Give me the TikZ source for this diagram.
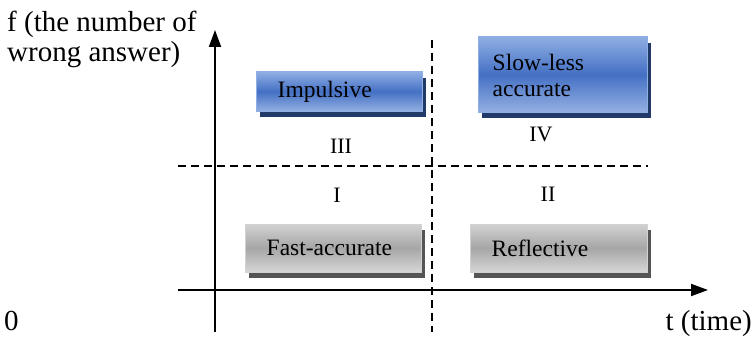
\documentclass[tikz,border=0pt]{standalone}
\usepackage{fontspec}
\setmainfont{Liberation Serif}
\usetikzlibrary{arrows.meta,shadows}

\definecolor{bluetop}{HTML}{8FAEE3}
\definecolor{bluemid}{HTML}{4470C4}
\definecolor{bluebot}{HTML}{93AFE2}
\definecolor{blueshadow}{HTML}{223A68}
\definecolor{graytop}{HTML}{D2D2D2}
\definecolor{graymid}{HTML}{A6A6A6}
\definecolor{graybot}{HTML}{D6D6D6}
\definecolor{grayshadow}{HTML}{555555}

\tikzset{
  axis/.style={line width=2pt,-{Triangle[length=17pt,width=12pt]}},
  guide/.style={line width=1.4pt,dash pattern=on 8pt off 5pt},
  quadbox/.style={rectangle,anchor=center,inner sep=0pt,line width=1pt},
  bluebox/.style={quadbox,draw=bluetop,top color=bluetop,bottom color=bluebot,
    middle color=bluemid,
    drop shadow={shadow xshift=4pt,shadow yshift=-6pt,fill=blueshadow,opacity=1}},
  graybox/.style={quadbox,draw=graytop,top color=graytop,bottom color=graybot,
    middle color=graymid,
    drop shadow={shadow xshift=4pt,shadow yshift=-6pt,fill=grayshadow,opacity=1}},
  boxtext/.style={anchor=west,inner sep=0pt,align=left,
    font=\fontsize{23.5}{26}\selectfont},
  quadlabel/.style={font=\fontsize{22}{24}\selectfont,inner sep=0pt},
  axislabel/.style={font=\fontsize{29}{30}\selectfont,inner sep=0pt}
}

\begin{document}
\begin{tikzpicture}[x=1pt,y=1pt]
\useasboundingbox (0,0) rectangle (754,338);

% ---- axes ----
\coordinate (ybot) at (215,6);
\coordinate (ytop) at (215,308);
\coordinate (xleft) at (178,48);
\coordinate (xright) at (708,48);
\draw[axis] (ybot) -- (ytop);
\draw[axis] (xleft) -- (xright);

% ---- dashed quadrant guides ----
\coordinate (vtop) at (432,298);
\coordinate (vbot) at (432,6);
\coordinate (hleft) at (178,172);
\coordinate (hright) at (648,172);
\draw[guide] (vtop) -- (vbot);
\draw[guide] (hleft) -- (hright);

% ---- axis labels ----
\node[axislabel,anchor=north west,align=left] (flabel) at (7,327) {f (the number of\\wrong answer)};
\node[axislabel,anchor=base west] (origin) at (4,8) {0};
\node[axislabel,anchor=base east] (tlabel) at (752,8) {t (time)};

% ---- the four styles ----
\node[bluebox,minimum width=166pt,minimum height=39pt] (impulsive) at (339,246.5) {};
\node[bluebox,minimum width=169pt,minimum height=75pt] (slow) at (562.5,263.5) {};
\node[graybox,minimum width=176pt,minimum height=48pt] (fast) at (333,90) {};
\node[graybox,minimum width=177pt,minimum height=48pt] (reflective) at (558.5,90) {};

\node[boxtext] (impulsivetext) at ([xshift=22pt]impulsive.west) {Impulsive};
\node[boxtext] (slowtext) at ([xshift=15pt,yshift=-1pt]slow.west) {Slow-less\\accurate};
\node[boxtext] (fasttext) at ([xshift=22pt]fast.west) {Fast-accurate};
\node[boxtext] (reflectivetext) at ([xshift=22pt]reflective.west) {Reflective};

% ---- quadrant numbers ----
\node[quadlabel] (q1) at (337,143) {I};
\node[quadlabel] (q2) at (548,144) {II};
\node[quadlabel] (q3) at (341,192) {III};
\node[quadlabel] (q4) at (541,204) {IV};

\end{tikzpicture}
\end{document}
